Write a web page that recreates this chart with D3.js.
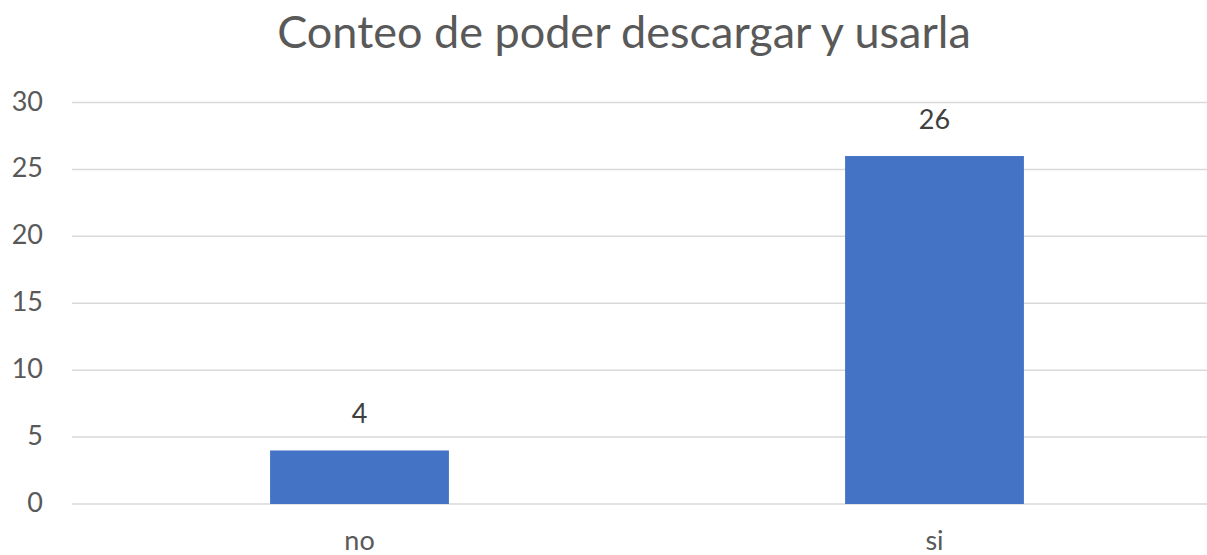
<!DOCTYPE html>
<html>
<head>
<meta charset="utf-8">
<script src="https://cdn.jsdelivr.net/npm/d3@7"></script>
<style>
  html, body { margin: 0; padding: 0; background: #fff; }
  svg { display: block; }
</style>
</head>
<body>
<svg id="chart" width="1207" height="555"></svg>
<script>
// Chart data
const categories = ["no", "si"];
const counts = [4, 26];
const yTicks = [0, 5, 10, 15, 20, 25, 30];
const chartTitle = "Conteo de poder descargar y usarla";

const W = 1207, H = 555;
const margin = { left: 72, right: -15, top: 102.5, bottom: 51 };
const font = "Lato, 'Open Sans', sans-serif";
const labelSize = 27;

const svg = d3.select("#chart");

const x = d3.scaleBand()
  .domain(categories)
  .range([margin.left, W - margin.right])
  .paddingInner(0.689)
  .paddingOuter(0.3445);

const y = d3.scaleLinear()
  .domain([0, 30])
  .range([H - margin.bottom, margin.top]);

// Horizontal gridlines
svg.append("g")
  .selectAll("line")
  .data(yTicks)
  .join("line")
  .attr("x1", margin.left)
  .attr("x2", W - margin.right)
  .attr("y1", d => y(d))
  .attr("y2", d => y(d))
  .attr("stroke", "#d9d9d9")
  .attr("stroke-width", 1.5);

// Y axis labels
const yAxis = d3.axisLeft(y).tickValues(yTicks).tickSize(0).tickPadding(0);
const gy = svg.append("g")
  .attr("transform", `translate(43,0)`)
  .call(yAxis);
gy.select(".domain").remove();
gy.selectAll("text")
  .attr("dy", 7.5)
  .attr("font-family", font)
  .attr("font-size", labelSize)
  .attr("fill", "#595959");

// Bars
svg.append("g")
  .selectAll("rect")
  .data(categories)
  .join("rect")
  .attr("x", d => x(d))
  .attr("width", x.bandwidth())
  .attr("y", (d, i) => y(counts[i]))
  .attr("height", (d, i) => y(0) - y(counts[i]))
  .attr("fill", "#4472c4");

// Value labels
svg.append("g")
  .selectAll("text")
  .data(categories)
  .join("text")
  .attr("x", d => x(d) + x.bandwidth() / 2)
  .attr("y", (d, i) => y(counts[i]) - 27)
  .attr("text-anchor", "middle")
  .attr("font-family", font)
  .attr("font-size", labelSize)
  .attr("fill", "#404040")
  .text((d, i) => counts[i]);

// X axis category labels
const xAxis = d3.axisBottom(x).tickSize(0).tickPadding(0);
const gx = svg.append("g")
  .attr("transform", `translate(0,${y(0) + 46})`)
  .call(xAxis);
gx.select(".domain").remove();
gx.selectAll("text")
  .attr("dy", 0)
  .attr("font-family", font)
  .attr("font-size", labelSize)
  .attr("fill", "#595959");

// Title
svg.append("text")
  .attr("x", 624)
  .attr("y", 48)
  .attr("text-anchor", "middle")
  .attr("font-family", font)
  .attr("font-size", 45)
  .attr("fill", "#595959")
  .text(chartTitle);
</script>
</body>
</html>
